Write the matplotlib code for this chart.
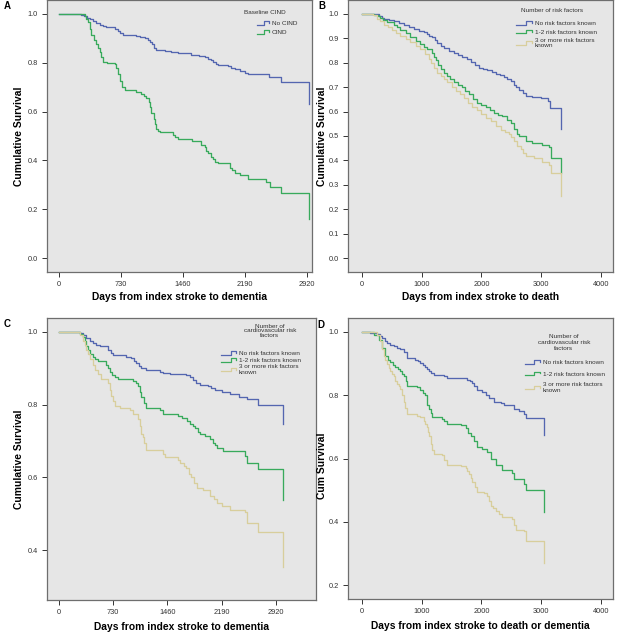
"""
Kaplan-Meier style survival panels (A-D): dementia / death after index stroke,
split by baseline CIND and by number of cardiovascular risk factors.
"""

import matplotlib
matplotlib.use('Agg')
import matplotlib.pyplot as plt
from matplotlib.legend_handler import HandlerBase
from matplotlib.lines import Line2D

plt.rcParams['font.family'] = ['Liberation Sans', 'DejaVu Sans']

# ── Colours (SPSS-ish) ────────────────────────────────────────────────────────
BLUE  = '#5466b0'
GREEN = '#38aa5c'
BEIGE = '#d8ce9c'
BG    = '#e6e6e6'
FRAME = '#6e6e6e'
TXT   = '#333333'

# ── Panel A: days to dementia by baseline CIND ───────────────────────────────
A_NOCIND_T = [0, 263, 290, 330, 361, 400, 440, 479, 520, 557, 655, 690, 714, 753,
              850, 910, 960, 1010, 1048, 1070, 1100, 1120, 1138, 1250, 1323, 1400,
              1558, 1650, 1715, 1754, 1790, 1813, 1850, 1872, 1990, 2030, 2068,
              2127, 2190, 2225, 2473, 2618, 2944]
A_NOCIND_S = [1.0, 0.997, 0.99, 0.985, 0.978, 0.97, 0.962, 0.955, 0.95, 0.946, 0.94,
              0.93, 0.922, 0.915, 0.912, 0.91, 0.905, 0.9, 0.893, 0.885, 0.875, 0.862,
              0.852, 0.848, 0.842, 0.838, 0.832, 0.828, 0.822, 0.815, 0.81, 0.803,
              0.795, 0.79, 0.785, 0.78, 0.773, 0.765, 0.76, 0.755, 0.74, 0.72, 0.63]
A_CIND_T = [0, 302, 320, 341, 360, 380, 410, 440, 460, 479, 500, 518, 560, 655, 675,
            695, 714, 745, 780, 910, 969, 1000, 1028, 1060, 1075, 1087, 1115, 1130,
            1138, 1165, 1185, 1342, 1370, 1401, 1570, 1676, 1715, 1735, 1754, 1790,
            1813, 1840, 1872, 2009, 2040, 2068, 2127, 2225, 2441, 2480, 2618, 2944]
A_CIND_S = [1.0, 0.99, 0.98, 0.965, 0.94, 0.915, 0.895, 0.875, 0.86, 0.845, 0.825,
            0.805, 0.8, 0.795, 0.78, 0.755, 0.725, 0.70, 0.69, 0.682, 0.672, 0.665,
            0.655, 0.64, 0.62, 0.595, 0.57, 0.55, 0.53, 0.52, 0.515, 0.505, 0.495,
            0.488, 0.478, 0.465, 0.455, 0.44, 0.43, 0.415, 0.405, 0.395, 0.39, 0.37,
            0.36, 0.35, 0.34, 0.325, 0.31, 0.29, 0.265, 0.16]

# ── Panel B: days to death by number of risk factors ─────────────────────────
B_NONE_T = [0, 196, 280, 330, 363, 450, 531, 620, 699, 780, 867, 950, 1035, 1080,
            1119, 1175, 1220, 1259, 1320, 1371, 1450, 1538, 1610, 1678, 1750, 1818,
            1890, 1958, 2030, 2098, 2170, 2238, 2310, 2378, 2430, 2490, 2540, 2573,
            2629, 2700, 2741, 2853, 2993, 3105, 3150, 3334]
B_NONE_S = [1.0, 0.998, 0.993, 0.985, 0.98, 0.975, 0.97, 0.962, 0.955, 0.948, 0.94,
            0.932, 0.925, 0.918, 0.91, 0.905, 0.893, 0.88, 0.87, 0.86, 0.85, 0.84,
            0.832, 0.825, 0.815, 0.805, 0.792, 0.78, 0.775, 0.77, 0.762, 0.755, 0.748,
            0.74, 0.733, 0.725, 0.71, 0.70, 0.69, 0.675, 0.665, 0.66, 0.655, 0.645,
            0.615, 0.53]
B_ONE_T = [0, 196, 260, 308, 360, 420, 531, 590, 643, 730, 811, 900, 979, 1040, 1091,
           1175, 1200, 1231, 1270, 1315, 1370, 1427, 1480, 1538, 1610, 1678, 1730,
           1790, 1860, 1930, 2000, 2070, 2140, 2210, 2280, 2350, 2420, 2490, 2545,
           2590, 2629, 2741, 2853, 3021, 3133, 3161, 3334]
B_ONE_S = [1.0, 0.995, 0.99, 0.985, 0.975, 0.965, 0.955, 0.945, 0.935, 0.92, 0.905,
           0.89, 0.875, 0.865, 0.855, 0.84, 0.825, 0.81, 0.79, 0.775, 0.76, 0.745,
           0.732, 0.72, 0.71, 0.70, 0.685, 0.67, 0.65, 0.635, 0.627, 0.62, 0.607,
           0.595, 0.587, 0.58, 0.567, 0.555, 0.53, 0.51, 0.50, 0.48, 0.47, 0.465,
           0.455, 0.41, 0.35]
B_MANY_T = [0, 180, 252, 300, 363, 430, 503, 570, 643, 730, 811, 900, 979, 1050, 1119,
            1160, 1203, 1260, 1315, 1370, 1427, 1500, 1566, 1640, 1706, 1780, 1846,
            1920, 1986, 2070, 2154, 2240, 2322, 2400, 2462, 2500, 2545, 2600, 2657,
            2700, 2741, 2881, 3021, 3133, 3161, 3334]
B_MANY_S = [1.0, 0.995, 0.98, 0.97, 0.955, 0.945, 0.935, 0.922, 0.91, 0.897, 0.885,
            0.87, 0.855, 0.835, 0.815, 0.8, 0.78, 0.76, 0.745, 0.732, 0.72, 0.70,
            0.685, 0.67, 0.655, 0.637, 0.62, 0.605, 0.59, 0.575, 0.56, 0.54, 0.525,
            0.515, 0.51, 0.495, 0.48, 0.46, 0.445, 0.43, 0.42, 0.41, 0.395, 0.38,
            0.35, 0.255]

# ── Panel C: days to dementia by cardiovascular risk factors ─────────────────
C_NONE_T = [0, 279, 320, 370, 413, 460, 503, 548, 660, 700, 728, 907, 975, 1010,
            1042, 1080, 1110, 1177, 1357, 1402, 1491, 1716, 1760, 1806, 1850, 1896,
            2008, 2050, 2098, 2188, 2300, 2420, 2525, 2682, 3010]
C_NONE_S = [1.0, 0.997, 0.99, 0.982, 0.975, 0.97, 0.965, 0.96, 0.95, 0.942, 0.937,
            0.932, 0.927, 0.92, 0.915, 0.905, 0.9, 0.895, 0.89, 0.888, 0.885, 0.88,
            0.875, 0.868, 0.86, 0.855, 0.85, 0.845, 0.84, 0.835, 0.828, 0.822, 0.815,
            0.80, 0.748]
C_ONE_T = [0, 279, 320, 346, 370, 391, 420, 458, 490, 526, 638, 660, 683, 720, 750,
           795, 997, 1040, 1065, 1090, 1110, 1140, 1177, 1357, 1402, 1604, 1660, 1720,
           1761, 1800, 1828, 1870, 1896, 1963, 2030, 2076, 2100, 2121, 2210, 2502,
           2525, 2682, 3010]
C_ONE_S = [1.0, 0.995, 0.985, 0.975, 0.96, 0.95, 0.94, 0.93, 0.925, 0.92, 0.91, 0.9,
           0.89, 0.88, 0.875, 0.87, 0.865, 0.858, 0.85, 0.835, 0.82, 0.805, 0.79,
           0.785, 0.775, 0.77, 0.762, 0.755, 0.748, 0.74, 0.735, 0.725, 0.72, 0.715,
           0.705, 0.695, 0.688, 0.68, 0.672, 0.66, 0.64, 0.622, 0.538]
C_MANY_T = [0, 279, 320, 346, 370, 391, 420, 458, 490, 526, 570, 660, 690, 705, 730,
            750, 818, 952, 997, 1065, 1090, 1110, 1132, 1150, 1177, 1402, 1424, 1604,
            1627, 1680, 1716, 1750, 1783, 1820, 1851, 1941, 2031, 2080, 2121, 2200,
            2300, 2502, 2525, 2682, 3010]
C_MANY_S = [1.0, 0.99, 0.975, 0.965, 0.95, 0.94, 0.925, 0.91, 0.895, 0.885, 0.87,
            0.86, 0.84, 0.825, 0.81, 0.795, 0.79, 0.785, 0.775, 0.76, 0.74, 0.72, 0.71,
            0.695, 0.675, 0.665, 0.655, 0.648, 0.64, 0.632, 0.625, 0.61, 0.6, 0.585,
            0.57, 0.565, 0.548, 0.54, 0.53, 0.52, 0.51, 0.505, 0.475, 0.45, 0.355]

# ── Panel D: days to death or dementia by cardiovascular risk factors ────────
D_NONE_T = [0, 140, 252, 300, 336, 380, 420, 470, 531, 590, 643, 699, 755, 895, 940,
            979, 1020, 1063, 1090, 1119, 1160, 1203, 1371, 1427, 1762, 1800, 1846,
            1880, 1930, 2014, 2070, 2126, 2210, 2322, 2378, 2545, 2629, 2713, 2741,
            3049]
D_NONE_S = [1.0, 0.998, 0.995, 0.988, 0.98, 0.972, 0.965, 0.96, 0.955, 0.95, 0.945,
            0.935, 0.918, 0.912, 0.908, 0.903, 0.897, 0.89, 0.882, 0.875, 0.87, 0.865,
            0.86, 0.855, 0.848, 0.845, 0.838, 0.828, 0.815, 0.81, 0.80, 0.79, 0.78,
            0.775, 0.77, 0.755, 0.75, 0.74, 0.728, 0.675]
D_ONE_T = [0, 200, 280, 336, 392, 440, 476, 520, 559, 600, 643, 670, 699, 730, 755,
           923, 979, 1020, 1063, 1091, 1120, 1147, 1175, 1343, 1380, 1427, 1650, 1734,
           1780, 1818, 1874, 1930, 2014, 2098, 2154, 2238, 2350, 2517, 2545, 2713,
           2741, 3049]
D_ONE_S = [1.0, 0.99, 0.975, 0.95, 0.925, 0.912, 0.905, 0.897, 0.89, 0.882, 0.875,
           0.868, 0.86, 0.845, 0.83, 0.825, 0.815, 0.808, 0.8, 0.77, 0.755, 0.745,
           0.73, 0.725, 0.718, 0.71, 0.705, 0.695, 0.682, 0.67, 0.655, 0.635, 0.63,
           0.62, 0.60, 0.58, 0.565, 0.555, 0.535, 0.52, 0.50, 0.43]
D_MANY_T = [0, 252, 308, 336, 364, 392, 420, 450, 476, 500, 531, 560, 587, 615, 643,
            671, 700, 727, 755, 923, 979, 1035, 1063, 1091, 1105, 1119, 1147, 1175,
            1203, 1343, 1380, 1427, 1650, 1734, 1760, 1790, 1820, 1846, 1890, 1930,
            2042, 2098, 2130, 2154, 2200, 2238, 2300, 2350, 2517, 2545, 2573, 2713,
            2741, 3049]
D_MANY_S = [1.0, 0.99, 0.97, 0.945, 0.925, 0.91, 0.90, 0.885, 0.875, 0.868, 0.86,
            0.845, 0.835, 0.828, 0.82, 0.80, 0.78, 0.76, 0.74, 0.735, 0.73, 0.72,
            0.71, 0.70, 0.685, 0.67, 0.645, 0.628, 0.615, 0.612, 0.595, 0.58, 0.577,
            0.57, 0.56, 0.55, 0.537, 0.525, 0.51, 0.495, 0.49, 0.48, 0.465, 0.45,
            0.442, 0.435, 0.425, 0.415, 0.41, 0.39, 0.375, 0.37, 0.34, 0.27]

RISK_LABELS = ['No risk factors known', '1-2 risk factors known',
               '3 or more risk factors\nknown']
CIND_LABELS = ['No CIND', 'CIND']
CV_TITLE = 'Number of\ncardiovascular risk\nfactors'

TICKS_730  = [0, 730, 1460, 2190, 2920]
TICKS_1000 = [0, 1000, 2000, 3000, 4000]

W, H = 634.0, 632.0
LEG_FS = 4.6


class StepHandler(HandlerBase):
    """Legend key drawn as a little step, like SPSS does."""
    def create_artists(self, legend, orig_handle, xdescent, ydescent,
                       width, height, fontsize, trans):
        x0 = -xdescent
        x1 = x0 + width
        xm = x0 + 0.62 * width
        ylo = -ydescent + 0.1 * height
        yhi = -ydescent + 0.9 * height
        ln = Line2D([x0, xm, xm, x1, x1], [ylo, ylo, yhi, yhi, yhi - 0.4 * height],
                    color=orig_handle.get_color(), lw=0.9)
        ln.set_transform(trans)
        return [ln]


def style_axes(ax, xlim, ylim, xticks, yticks, xlabel, ylabel):
    ax.set_facecolor(BG)
    ax.set_xlim(*xlim); ax.set_ylim(*ylim)
    ax.set_xticks(xticks); ax.set_yticks(yticks)
    ax.set_xticklabels([str(t) for t in xticks])
    ax.set_yticklabels(['{:.1f}'.format(v) for v in yticks])
    for sp in ax.spines.values():
        sp.set_color(FRAME); sp.set_linewidth(0.9)
    ax.tick_params(length=3.5, width=0.7, color=TXT, pad=3,
                   labelsize=5.3, labelcolor=TXT)
    ax.set_xlabel(xlabel, fontsize=7.4, fontweight='bold')
    ax.set_ylabel(ylabel, fontsize=7.4, fontweight='bold')


def add_legend(ax, lines, labels, title, title_xy, title_ls, item_xy, spacing, hlen):
    """Title as plain text, items as a legend anchored at the first key (pixels)."""
    fig.text(title_xy[0] / W, 1 - title_xy[1] / H, title, fontsize=LEG_FS,
             color=TXT, ha='center', va='center', multialignment='center',
             linespacing=title_ls)
    top = item_xy[1] - 3.0
    leg = ax.legend(lines, labels, loc='upper left',
                    bbox_to_anchor=(item_xy[0] / W, 1 - top / H),
                    bbox_transform=fig.transFigure, frameon=False, fontsize=LEG_FS,
                    handler_map={Line2D: StepHandler()}, handlelength=hlen,
                    handletextpad=0.4, labelspacing=spacing,
                    borderpad=0, borderaxespad=0)
    for t in leg.get_texts():
        t.set_color(TXT)
    return leg


# ── Figure ────────────────────────────────────────────────────────────────────
fig = plt.figure(figsize=(6.34, 6.32), dpi=100)

def px_axes(left, top, right, bottom):
    return fig.add_axes([left / W, 1 - bottom / H, (right - left) / W, (bottom - top) / H])

axA = px_axes(47, 0, 312, 272)
axB = px_axes(348, 0, 613, 272)
axC = px_axes(47, 318, 316, 600)
axD = px_axes(348, 318, 613, 599)

lw = 0.95

# A
lA = [axA.step(A_NOCIND_T, A_NOCIND_S, where='post', color=BLUE, lw=lw)[0],
      axA.step(A_CIND_T, A_CIND_S, where='post', color=GREEN, lw=lw)[0]]
style_axes(axA, (-141, 2980), (-0.057, 1.057), TICKS_730,
           [0.0, 0.2, 0.4, 0.6, 0.8, 1.0],
           'Days from index stroke to dementia', 'Cumulative Survival')
add_legend(axA, lA, CIND_LABELS, 'Baseline CIND', (265, 12), 1.0,
           (256.5, 24), 0.5, 2.0)

# B
lB = [axB.step(B_NONE_T, B_NONE_S, where='post', color=BLUE, lw=lw)[0],
      axB.step(B_ONE_T, B_ONE_S, where='post', color=GREEN, lw=lw)[0],
      axB.step(B_MANY_T, B_MANY_S, where='post', color=BEIGE, lw=lw)[0]]
style_axes(axB, (-234, 4201), (-0.057, 1.057), TICKS_1000,
           [i / 10 for i in range(11)],
           'Days from index stroke to death', 'Cumulative Survival')
add_legend(axB, lB, RISK_LABELS, 'Number of risk factors', (552.5, 11), 1.0,
           (516, 24), 0.45, 2.5)

# C
lC = [axC.step(C_NONE_T, C_NONE_S, where='post', color=BLUE, lw=lw)[0],
      axC.step(C_ONE_T, C_ONE_S, where='post', color=GREEN, lw=lw)[0],
      axC.step(C_MANY_T, C_MANY_S, where='post', color=BEIGE, lw=lw)[0]]
style_axes(axC, (-161, 3459), (0.263, 1.038), TICKS_730,
           [0.4, 0.6, 0.8, 1.0],
           'Days from index stroke to dementia', 'Cumulative Survival')
add_legend(axC, lC, RISK_LABELS, CV_TITLE, (270, 331), 0.95,
           (221, 354), 0.2, 2.4)

# D
lD = [axD.step(D_NONE_T, D_NONE_S, where='post', color=BLUE, lw=lw)[0],
      axD.step(D_ONE_T, D_ONE_S, where='post', color=GREEN, lw=lw)[0],
      axD.step(D_MANY_T, D_MANY_S, where='post', color=BEIGE, lw=lw)[0]]
style_axes(axD, (-234, 4201), (0.156, 1.044), TICKS_1000,
           [0.2, 0.4, 0.6, 0.8, 1.0],
           'Days from index stroke to death or dementia', 'Cum Survival')
add_legend(axD, lD, RISK_LABELS, CV_TITLE, (564, 342), 1.25,
           (524.5, 363), 0.9, 2.5)

# label positions (axes fraction)
axA.xaxis.set_label_coords(0.5, -0.072); axA.yaxis.set_label_coords(-0.087, 0.5)
axB.xaxis.set_label_coords(0.5, -0.072); axB.yaxis.set_label_coords(-0.08, 0.5)
axC.xaxis.set_label_coords(0.5, -0.078); axC.yaxis.set_label_coords(-0.087, 0.5)
axD.xaxis.set_label_coords(0.5, -0.078); axD.yaxis.set_label_coords(-0.08, 0.475)

# panel letters
for letter, (x, y) in zip('ABCD', [(7, 6), (322, 6), (7, 324), (321, 325)]):
    fig.text(x / W, 1 - y / H, letter, fontsize=7, fontweight='bold',
             ha='center', va='center')

fig.savefig('out.png', dpi=100, facecolor='white')
